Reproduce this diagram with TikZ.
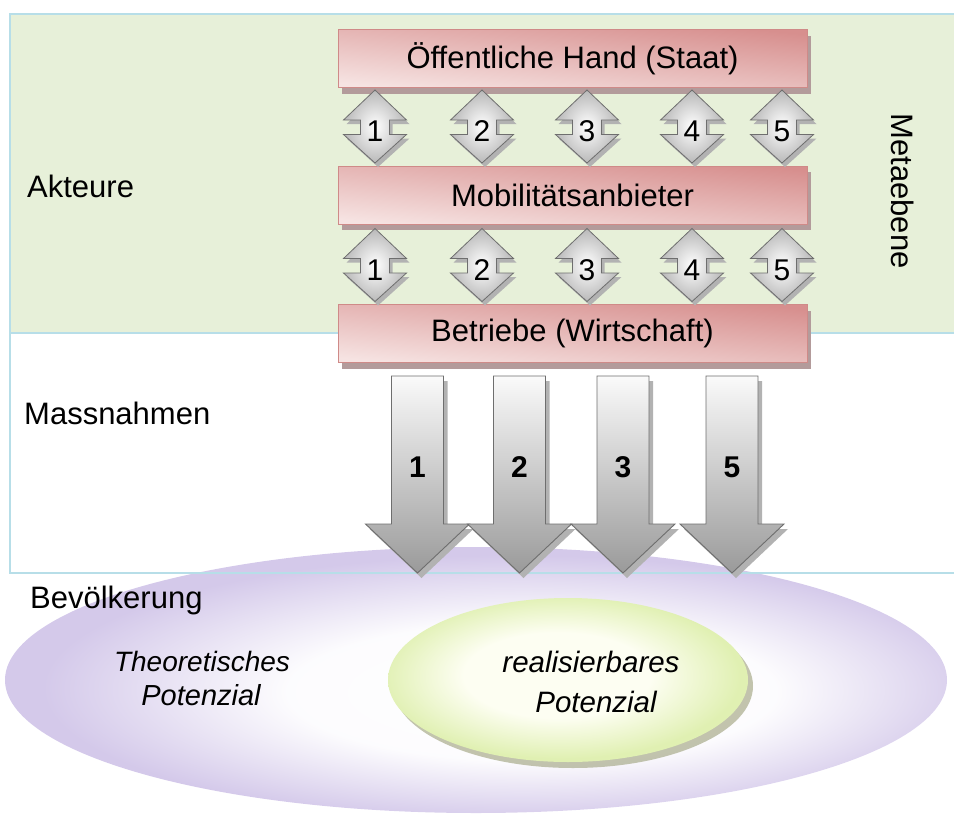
\documentclass[tikz,border=0pt]{standalone}
\usepackage{fontspec}
\setmainfont{Liberation Sans}
\usetikzlibrary{shadows}
\definecolor{frameline}{HTML}{B7DEE8}
\definecolor{greenbg}{HTML}{E7F0D9}
\definecolor{boxdark}{HTML}{D78F8E}
\definecolor{boxlight}{HTML}{F6E3E2}
\definecolor{boxline}{HTML}{CF8A88}
\definecolor{boxshadow}{HTML}{B39B9B}
\definecolor{arrline}{HTML}{6E6E6E}
\definecolor{arrtop}{HTML}{FAFAFA}
\definecolor{arrbot}{HTML}{9A9A9A}
\definecolor{shadowgray}{HTML}{B2B2B2}
\definecolor{dblouter}{HTML}{B8B8B8}
\definecolor{lavender}{HTML}{D4C9EA}
\definecolor{lemon}{HTML}{E0F0B2}
\definecolor{lemoncenter}{HTML}{FDFEF2}
\definecolor{lemonshadow}{HTML}{A9AC8C}
\pgfdeclareradialshading{purpleell}{\pgfpoint{4bp}{-3bp}}{color(0bp)=(white); color(13bp)=(white!94!lavender); color(25bp)=(lavender); color(50bp)=(lavender)}
\pgfdeclareradialshading{lemonell}{\pgfpoint{-2bp}{2bp}}{color(0bp)=(lemoncenter); color(13bp)=(lemoncenter); color(25bp)=(lemon); color(50bp)=(lemon)}
\newcommand{\myUpDown}[4]{%
  \begin{scope}[shift={(#2,#3)}]
    \path[fill=shadowgray, shift={(3,4)}] (0,-36.5) -- (31.5,-6.5) -- (14.5,-6.5) -- (14.5,8) -- (31.5,8) -- (0,36.5) -- (-31.5,8) -- (-14.5,8) -- (-14.5,-6.5) -- (-31.5,-6.5) -- cycle;
    \draw[arrline, line width=0.8, inner color=white, outer color=dblouter] (0,-36.5) -- (31.5,-6.5) -- (14.5,-6.5) -- (14.5,8) -- (31.5,8) -- (0,36.5) -- (-31.5,8) -- (-14.5,8) -- (-14.5,-6.5) -- (-31.5,-6.5) -- cycle;
    \node[numlbl] (#1) at (0,5) {#4};
  \end{scope}}
\newcommand{\myDownArrow}[3]{%
  \begin{scope}[shift={(#2,0)}]
    \path[fill=shadowgray, shift={(4,5)}] (-26,376) -- (26,376) -- (26,524) -- (52,524) -- (0,573) -- (-52,524) -- (-26,524) -- cycle;
    \draw[arrline, line width=0.9, top color=arrtop, bottom color=arrbot] (-26,376) -- (26,376) -- (26,524) -- (52,524) -- (0,573) -- (-52,524) -- (-26,524) -- cycle;
    \node[numlbl, font=\fontsize{30}{32}\selectfont\bfseries] (#1) at (0,467) {#3};
  \end{scope}}
\begin{document}
\begin{tikzpicture}[x=1pt, y=-1pt, font=\fontsize{31}{36}\selectfont,
  actor/.style={draw=boxline, line width=0.8, minimum width=469, minimum height=58, inner sep=0pt,
    top color=boxdark, bottom color=boxlight, shading angle=-6,
    drop shadow={shadow xshift=4pt, shadow yshift=-6pt, fill=boxshadow, opacity=1}},
  numlbl/.style={inner sep=0pt, font=\fontsize{30}{32}\selectfont},
  lbl/.style={inner sep=0pt, anchor=base west},
  itl/.style={inner sep=0pt, anchor=base, font=\fontsize{29}{34}\selectfont\itshape}]
\useasboundingbox (0,0) rectangle (954,833);
% background of the upper band
\fill[greenbg] (10,14) rectangle (960,333);
% population ellipses
\shade[shading=purpleell] (476,680) ellipse [x radius=471, y radius=133];
\fill[lemonshadow, opacity=0.7] (573,686) ellipse [x radius=180, y radius=82];
\shade[shading=lemonell] (568,680) ellipse [x radius=180, y radius=82];
% frame lines
\draw[frameline, line width=2] (960,14) -- (10,14) -- (10,573) -- (960,573);
\draw[frameline, line width=2] (10,333) -- (960,333);
% side labels
\node[lbl] (akt) at (27,197) {Akteure};
\node[lbl] (mass) at (24,424) {Massnahmen};
\node[lbl] (bev) at (30,608) {Bevölkerung};
\node[inner sep=0pt, rotate=-90] (meta) at (903,191) {Metaebene};
% actors
\node[actor] (staat) at (572.5,58.5) {Öffentliche Hand (Staat)};
\node[actor] (mobil) at (572.5,195) {Mobilitätsanbieter};
\node[actor] (betr) at (572.5,333.5) {Betriebe (Wirtschaft)};
% double arrows
\myUpDown{ua1}{375}{126.5}{1}
\myUpDown{ua2}{482}{126.5}{2}
\myUpDown{ua3}{587}{126.5}{3}
\myUpDown{ua4}{692}{126.5}{4}
\myUpDown{ua5}{782}{126.5}{5}
\myUpDown{ub1}{375}{265}{1}
\myUpDown{ub2}{482}{265}{2}
\myUpDown{ub3}{587}{265}{3}
\myUpDown{ub4}{692}{265}{4}
\myUpDown{ub5}{782}{265}{5}
% measures
\myDownArrow{m1}{417.5}{1}
\myDownArrow{m2}{519.5}{2}
\myDownArrow{m3}{623}{3}
\myDownArrow{m5}{732}{5}
% potentials
\node[itl, font=\fontsize{28}{34}\selectfont\itshape] (theo1) at (202,671) {Theoretisches};
\node[itl] (theo2) at (201,705) {Potenzial};
\node[itl, font=\fontsize{29.5}{36}\selectfont\itshape] (real1) at (591,672) {realisierbares};
\node[itl, font=\fontsize{29.5}{36}\selectfont\itshape] (real2) at (596,712) {Potenzial};
\end{tikzpicture}
\end{document}
